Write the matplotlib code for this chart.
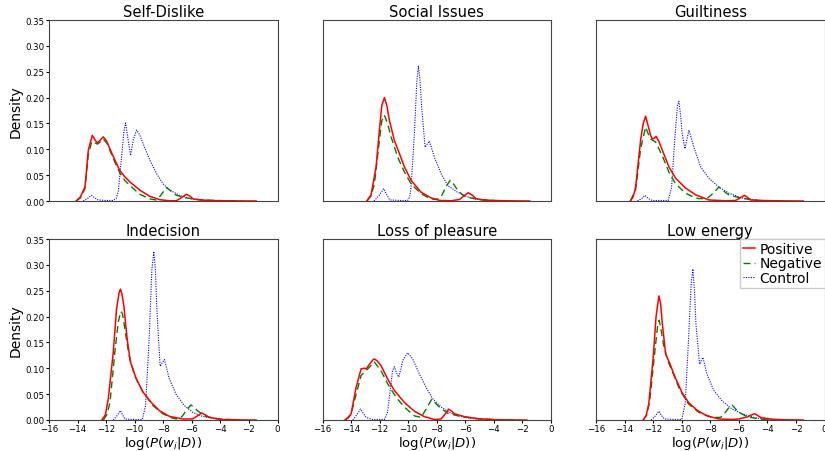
import matplotlib
matplotlib.use("Agg")
import matplotlib.pyplot as plt

# values (log-probability, density)
TITLES = ["Self-Dislike", "Social Issues", "Guiltiness",
          "Indecision", "Loss of pleasure", "Low energy"]
SERIES = ["Positive", "Negative", "Control"]

SD_POS_X = [-14.1, -13.8, -13.48, -13.25, -12.97, -12.78, -12.6, -12.4, -12.2, -11.95, -11.74, -11.4, -11.04,
            -10.7, -10.34, -9.64, -8.94, -8.24, -7.6, -7.08, -6.7, -6.38, -6.1, -5.92, -5.4, -4.75, -3.5, -2.5, -1.5]
SD_POS_Y = [0, 0.008, 0.027, 0.098, 0.127, 0.118, 0.112, 0.118, 0.124, 0.115, 0.101, 0.080, 0.059,
            0.047, 0.037, 0.021, 0.009, 0.0025, 0.0005, 0.0005, 0.007, 0.013, 0.009, 0.004, 0.002, 0.001, 0.0004, 0.0002, 0]
SD_NEG_X = [-14.1, -13.8, -13.48, -13.25, -13.0, -12.6, -12.2, -11.95, -11.74, -11.4, -11.04, -10.7, -10.34,
            -9.64, -8.94, -8.5, -8.2, -7.78, -7.4, -7.08, -6.38, -5.9, -5.2, -4.0, -2.5]
SD_NEG_Y = [0, 0.006, 0.024, 0.09, 0.115, 0.110, 0.120, 0.112, 0.098, 0.076, 0.054, 0.040, 0.030,
            0.013, 0.004, 0.002, 0.010, 0.026, 0.018, 0.011, 0.006, 0.004, 0.002, 0.0007, 0]
SD_CTL_X = [-13.6, -13.25, -13.02, -12.8, -12.55, -12.0, -11.5, -11.3, -11.15, -10.92, -10.75, -10.64, -10.5,
            -10.29, -10.1, -9.87, -9.65, -9.41, -8.94, -8.47, -8.01, -7.55, -6.85, -6.15, -5.22, -4.3, -3.5]
SD_CTL_Y = [0, 0.006, 0.011, 0.006, 0.002, 0.001, 0.001, 0.005, 0.018, 0.085, 0.135, 0.151, 0.125,
            0.088, 0.118, 0.137, 0.128, 0.111, 0.079, 0.053, 0.033, 0.021, 0.011, 0.0045, 0.0015, 0.0005, 0]

SI_POS_X = [-12.9, -12.6, -12.25, -12.02, -11.85, -11.67, -11.5, -11.32, -10.97, -10.62, -10.27, -9.8, -9.1,
            -8.4, -7.8, -7.0, -6.4, -6.1, -5.8, -5.5, -5.26, -4.7, -3.98, -3.0, -1.5]
SI_POS_Y = [0, 0.012, 0.066, 0.137, 0.185, 0.200, 0.185, 0.156, 0.117, 0.092, 0.066, 0.040, 0.017,
            0.006, 0.001, 0.0005, 0.003, 0.010, 0.016, 0.011, 0.0045, 0.002, 0.001, 0.0004, 0]
SI_NEG_X = [-12.9, -12.6, -12.37, -12.02, -11.85, -11.67, -11.45, -11.2, -10.74, -10.27, -9.8, -9.1,
            -8.5, -8.17, -7.9, -7.7, -7.35, -7.06, -6.8, -6.55, -6.08, -5.15, -3.75, -2.5]
SI_NEG_Y = [0, 0.01, 0.033, 0.117, 0.155, 0.166, 0.150, 0.124, 0.085, 0.056, 0.033, 0.014,
            0.005, 0.003, 0.004, 0.008, 0.028, 0.040, 0.032, 0.021, 0.009, 0.003, 0.0005, 0]
SI_CTL_X = [-12.4, -12.0, -11.72, -11.5, -11.3, -10.5, -10.04, -9.9, -9.8, -9.57, -9.4, -9.29, -9.18,
            -9.06, -8.82, -8.52, -8.17, -7.7, -7.24, -6.55, -5.85, -4.92, -4.0, -3.3]
SI_CTL_Y = [0, 0.012, 0.024, 0.012, 0.002, 0.001, 0.001, 0.008, 0.027, 0.130, 0.230, 0.261, 0.235,
            0.182, 0.104, 0.116, 0.085, 0.053, 0.030, 0.017, 0.008, 0.002, 0.0005, 0]

GU_POS_X = [-13.6, -13.4, -13.23, -12.88, -12.7, -12.53, -12.35, -12.18, -12.07, -11.95, -11.79, -11.6, -11.37,
            -10.9, -10.43, -9.73, -9.03, -8.1, -7.0, -6.24, -5.9, -5.61, -5.4, -5.19, -4.5, -3.0, -1.5]
GU_POS_Y = [0, 0.008, 0.027, 0.118, 0.150, 0.164, 0.145, 0.127, 0.120, 0.121, 0.125, 0.115, 0.099,
            0.066, 0.044, 0.025, 0.012, 0.002, 0.0005, 0.001, 0.006, 0.011, 0.007, 0.002, 0.001, 0.0003, 0]
GU_NEG_X = [-13.6, -13.23, -12.88, -12.53, -12.35, -12.18, -11.83, -11.37, -10.9, -10.43, -9.73,
            -9.2, -8.8, -8.22, -7.8, -7.4, -7.05, -6.71, -6.2, -5.78, -4.62, -3.0]
GU_NEG_Y = [0, 0.022, 0.101, 0.143, 0.130, 0.120, 0.114, 0.088, 0.056, 0.033, 0.015,
            0.008, 0.0045, 0.005, 0.015, 0.027, 0.019, 0.012, 0.008, 0.005, 0.001, 0]
GU_CTL_X = [-13.1, -12.8, -12.58, -12.35, -12.07, -11.5, -10.95, -10.71, -10.48, -10.3, -10.2, -10.08,
            -9.97, -9.78, -9.5, -9.15, -8.68, -8.1, -7.4, -6.7, -5.78, -4.62, -3.5]
GU_CTL_Y = [0, 0.005, 0.011, 0.005, 0.001, 0.001, 0.001, 0.027, 0.124, 0.185, 0.193, 0.165,
            0.130, 0.101, 0.137, 0.104, 0.066, 0.044, 0.027, 0.015, 0.006, 0.001, 0]

IN_POS_X = [-12.3, -12.05, -11.85, -11.5, -11.27, -11.1, -11.0, -10.9, -10.76, -10.53, -10.3, -9.88, -9.42,
            -8.84, -8.27, -7.57, -6.65, -5.95, -5.6, -5.31, -5.05, -4.8, -3.87, -2.8, -1.5]
IN_POS_Y = [0, 0.01, 0.041, 0.131, 0.215, 0.245, 0.253, 0.245, 0.221, 0.157, 0.112, 0.079, 0.054,
            0.034, 0.018, 0.007, 0.002, 0.002, 0.008, 0.0135, 0.010, 0.005, 0.001, 0.0003, 0]
IN_NEG_X = [-12.2, -11.95, -11.73, -11.39, -11.15, -10.97, -10.85, -10.69, -10.39, -10.0, -9.42, -8.73,
            -8.03, -7.4, -7.11, -6.85, -6.65, -6.35, -6.07, -5.85, -5.61, -5.03, -4.1, -2.8]
IN_NEG_Y = [0, 0.01, 0.034, 0.131, 0.190, 0.210, 0.205, 0.176, 0.124, 0.086, 0.054, 0.028,
            0.012, 0.004, 0.002, 0.003, 0.008, 0.020, 0.029, 0.025, 0.018, 0.007, 0.002, 0]
IN_CTL_X = [-11.5, -11.25, -11.0, -10.85, -10.69, -10.2, -9.47, -9.24, -9.0, -8.8, -8.66, -8.55, -8.45,
            -8.22, -7.92, -7.57, -7.11, -6.53, -5.95, -5.26, -4.33, -3.4]
IN_CTL_Y = [0, 0.008, 0.018, 0.01, 0.002, 0.001, 0.001, 0.028, 0.150, 0.290, 0.326, 0.290, 0.215,
            0.104, 0.117, 0.079, 0.050, 0.028, 0.015, 0.007, 0.002, 0]

LP_POS_X = [-14.45, -14.2, -14.0, -13.65, -13.3, -13.1, -12.95, -12.7, -12.45, -12.37, -12.2, -11.9, -11.44,
            -10.97, -10.27, -9.57, -8.87, -8.17, -7.7, -7.4, -7.17, -6.95, -6.77, -6.07, -5.14, -3.97, -2.8, -1.7]
LP_POS_Y = [0, 0.004, 0.012, 0.063, 0.099, 0.100, 0.099, 0.108, 0.117, 0.118, 0.115, 0.105, 0.079,
            0.057, 0.034, 0.017, 0.0065, 0.001, 0.002, 0.012, 0.021, 0.017, 0.012, 0.0065, 0.0026, 0.0006, 0.0002, 0]
LP_NEG_X = [-14.4, -14.0, -13.77, -13.3, -12.83, -12.37, -11.9, -11.44, -10.85, -10.27, -9.57, -9.1,
            -8.75, -8.36, -7.82, -7.24, -6.3, -5.14, -3.8, -2.2]
LP_NEG_Y = [0, 0.012, 0.037, 0.086, 0.099, 0.112, 0.095, 0.070, 0.044, 0.025, 0.008, 0.005,
            0.021, 0.040, 0.025, 0.013, 0.0065, 0.0026, 0.0006, 0]
LP_CTL_X = [-13.88, -13.6, -13.35, -13.15, -12.95, -12.5, -11.67, -11.45, -11.32, -11.1, -10.97, -10.8,
            -10.67, -10.5, -10.39, -10.04, -9.69, -9.22, -8.75, -8.29, -7.7, -7.0, -6.07, -4.9, -3.8]
LP_CTL_Y = [0, 0.01, 0.021, 0.013, 0.005, 0.001, 0.001, 0.015, 0.044, 0.095, 0.103, 0.090,
            0.083, 0.100, 0.115, 0.130, 0.118, 0.089, 0.063, 0.041, 0.025, 0.013, 0.005, 0.001, 0]

LE_POS_X = [-12.7, -12.5, -12.31, -12.0, -11.8, -11.6, -11.48, -11.36, -11.13, -10.82, -10.47, -10.0, -9.53,
            -8.94, -8.24, -7.41, -6.5, -6.0, -5.41, -5.1, -4.87, -4.65, -4.47, -3.65, -2.6, -1.5]
LE_POS_Y = [0, 0.008, 0.031, 0.121, 0.200, 0.240, 0.225, 0.186, 0.128, 0.108, 0.083, 0.054, 0.034,
            0.019, 0.008, 0.002, 0.001, 0.002, 0.006, 0.010, 0.012, 0.008, 0.005, 0.0013, 0.0003, 0]
LE_NEG_X = [-12.7, -12.45, -12.24, -11.88, -11.7, -11.58, -11.45, -11.29, -10.99, -10.59, -10.12, -9.53,
            -8.82, -7.88, -7.29, -6.94, -6.7, -6.47, -6.25, -6.0, -5.41, -4.35, -2.8]
LE_NEG_Y = [0, 0.01, 0.037, 0.134, 0.180, 0.193, 0.175, 0.147, 0.115, 0.089, 0.057, 0.031,
            0.015, 0.005, 0.005, 0.015, 0.024, 0.029, 0.022, 0.015, 0.006, 0.0013, 0]
LE_CTL_X = [-12.15, -11.85, -11.6, -11.4, -11.22, -10.5, -10.0, -9.76, -9.53, -9.35, -9.22, -9.1,
            -9.01, -8.75, -8.52, -8.24, -7.76, -7.18, -6.47, -5.76, -4.82, -3.88, -3.2]
LE_CTL_Y = [0, 0.008, 0.017, 0.008, 0.002, 0.001, 0.001, 0.031, 0.153, 0.260, 0.292, 0.245,
            0.186, 0.108, 0.121, 0.089, 0.057, 0.037, 0.021, 0.012, 0.004, 0.0006, 0]

XTICKS = [-16, -14, -12, -10, -8, -6, -4, -2, 0]
YTICKS = [0.0, 0.05, 0.10, 0.15, 0.20, 0.25, 0.30, 0.35]

PANELS = [
    [(SD_POS_X, SD_POS_Y), (SD_NEG_X, SD_NEG_Y), (SD_CTL_X, SD_CTL_Y)],
    [(SI_POS_X, SI_POS_Y), (SI_NEG_X, SI_NEG_Y), (SI_CTL_X, SI_CTL_Y)],
    [(GU_POS_X, GU_POS_Y), (GU_NEG_X, GU_NEG_Y), (GU_CTL_X, GU_CTL_Y)],
    [(IN_POS_X, IN_POS_Y), (IN_NEG_X, IN_NEG_Y), (IN_CTL_X, IN_CTL_Y)],
    [(LP_POS_X, LP_POS_Y), (LP_NEG_X, LP_NEG_Y), (LP_CTL_X, LP_CTL_Y)],
    [(LE_POS_X, LE_POS_Y), (LE_NEG_X, LE_NEG_Y), (LE_CTL_X, LE_CTL_Y)],
]

STYLES = [
    dict(color="red", linestyle="-", linewidth=1.1),
    dict(color="green", linestyle=(0, (5, 3)), linewidth=1.0),
    dict(color="blue", linestyle=(0, (1, 1.2)), linewidth=0.8),
]

fig, axes = plt.subplots(2, 3, figsize=(8.25, 4.52), dpi=100)
fig.subplots_adjust(left=0.0594, right=0.9995, bottom=0.0686, top=0.9535,
                    wspace=0.197, hspace=0.21)

for i, ax in enumerate(axes.flat):
    row, col = divmod(i, 3)
    # draw Control first so the red/green lines sit on top
    for (xs, ys), style, name in reversed(list(zip(PANELS[i], STYLES, SERIES))):
        ax.plot(xs, ys, label=name, **style)
    ax.set_xlim(-16, 0)
    ax.set_ylim(0, 0.35)
    ax.set_title(TITLES[i], fontsize=10.6, pad=3)
    ax.set_xticks(XTICKS)
    ax.set_yticks(YTICKS)
    ax.set_yticklabels([f"{v:.2f}" for v in YTICKS])
    ax.tick_params(labelsize=6.2, length=2, pad=1.2)
    if row == 0:
        ax.tick_params(axis="x", length=0, labelbottom=False)
    else:
        ax.set_xlabel(r"$\log(P(w_i|D))$", fontsize=9.5)
        ax.xaxis.set_label_coords(0.5, -0.078)
    if col == 0:
        ax.set_ylabel("Density", fontsize=10, labelpad=2)
    else:
        ax.tick_params(axis="y", length=0, labelleft=False)
    for sp in ax.spines.values():
        sp.set_color("#444444")

# legend in the last panel, in Positive / Negative / Control order
ax = axes[1, 2]
handles, labels = ax.get_legend_handles_labels()
ax.legend(handles[::-1], labels[::-1], loc="upper right", fontsize=10,
          handlelength=0.9, handletextpad=0.3, borderpad=0.2, labelspacing=0.05,
          borderaxespad=0.0, fancybox=False, edgecolor="#cccccc", framealpha=1.0)

fig.savefig("out.png", dpi=100)
